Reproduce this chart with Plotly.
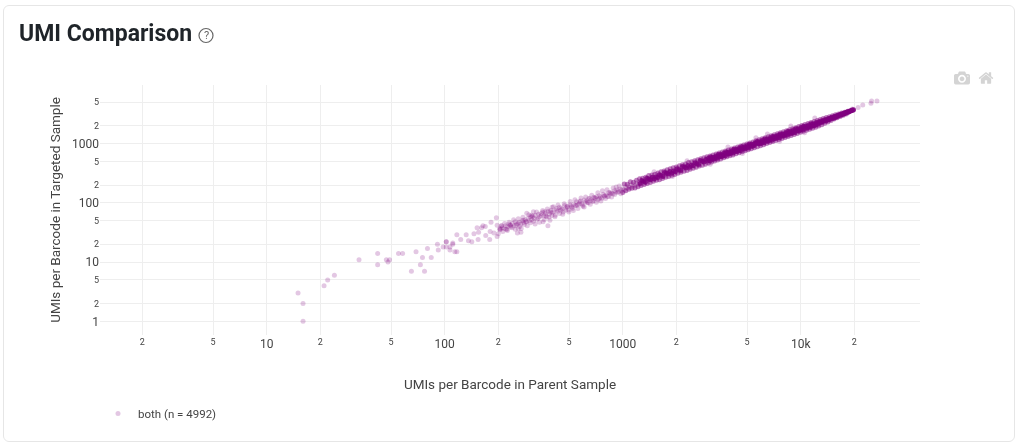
"""UMI comparison scatter, parent vs targeted sample, log-log axes."""

import plotly.graph_objects as go

PURPLE = "#800080"
FONT = "Roboto"
GRID = "#eeeeee"

# scattered points, faint end of the distribution
sparse_x = [15, 16, 16, 21, 22, 24, 33, 42, 42, 47, 49, 48, 55, 58, 65, 69, 73, 75, 77, 80, 84, 91, 92,
            98, 102, 102, 107, 107, 111, 114, 117, 117, 102, 111, 123, 132, 136, 142, 146, 152, 161, 155,
            154, 164, 169, 182, 195, 197, 180, 170, 179, 189, 197, 204, 209, 226, 233, 256, 268, 259, 249,
            276, 289, 315, 307, 357, 380, 390, 366, 401,
            205, 210, 215, 220, 224, 230, 235, 240, 245, 252, 258, 262, 268, 272, 278, 283, 288, 294, 298,
            303, 308, 313, 318, 323, 330, 336, 342, 348, 355, 361, 368, 374, 381, 388, 395, 402, 410, 418,
            425, 432, 440, 448, 455, 463, 472, 480, 488, 497, 505, 514, 522, 531, 540, 550, 558, 568, 578,
            588, 598, 608, 618, 630, 640, 652, 664, 676, 688, 700, 712, 725, 738, 750, 764, 778, 792, 806,
            820, 835, 850, 866, 882, 898, 914, 930, 948, 965, 982, 1000, 1018, 1036, 1055, 1075, 1095, 1115,
            1135, 1155, 1176, 1198, 1220, 1242, 1265, 1288, 1312, 1336, 1360, 1385, 1410, 1436, 1462, 1490,
            1517, 1545, 1574, 1603, 1632, 1662, 1693, 1724, 1756, 1788, 1821, 1855, 1889, 1924, 1960, 1996,
            2033, 2071, 2109, 2148, 2188, 2228, 2270, 2312, 2355, 2398, 2443, 2488, 2534, 2581, 2629, 2678,
            2727, 2778, 2829, 2881, 2934, 2989,
            19500, 21000, 22300, 24800, 25000, 26800]
sparse_y = [3, 2, 1, 4, 5, 6, 11, 14, 9, 11, 11, 10, 14, 14, 7, 15, 9, 12, 7, 17, 12, 20, 16,
            18, 22, 18, 16, 18, 20, 15, 15, 29, 22, 21, 24, 29, 23, 22, 30, 38, 38, 32,
            24, 41, 40, 47, 56, 42, 33, 28, 24, 31, 27, 35, 41, 40, 42, 31, 32, 37, 48,
            51, 67, 71, 62, 48, 41, 51, 71, 84,
            36, 38, 37, 41, 36, 44, 39, 45, 41, 42, 45, 47, 44, 50, 46, 52, 48, 55, 50,
            58, 52, 60, 55, 62, 53, 64, 58, 61, 70, 60, 66, 58, 72, 65, 75, 68, 71, 62,
            80, 72, 84, 75, 78, 70, 90, 82, 85, 76, 93, 88, 80, 95, 90, 104, 92, 97, 108,
            98, 88, 112, 104, 108, 100, 118, 112, 105, 124, 118, 127, 113, 132, 125, 120, 140, 130, 137,
            128, 150, 142, 147, 142, 160, 152, 165, 155, 172, 162, 172, 165, 185, 178, 190, 182, 200,
            190, 205, 197, 215, 205, 225, 215, 232, 220, 245, 232, 250, 240, 262, 250, 268,
            255, 280, 265, 290, 275, 300, 285, 312, 300, 325, 305, 335, 320, 350, 330, 365,
            350, 380, 360, 395, 375, 410, 385, 425, 400, 440, 420, 455, 430, 475, 450, 495,
            465, 510, 490, 530, 505, 550,
            3850, 4060, 4500, 4810, 5250, 5250]

# wider spread around the middle of the range, plus stray points beside the ridge
spread_x = [200, 204, 208, 212, 217, 221, 225, 230, 234, 239, 244, 249, 254, 259, 264, 269, 275, 280, 286, 291,
            297, 303, 309, 315, 322, 328, 335, 341, 348, 355, 362, 370, 377, 385, 392, 400, 408, 416, 425, 433,
            442, 451, 460, 469, 478, 488, 498, 507, 518, 528, 539, 549, 560, 572, 583, 595, 607, 619, 631, 644,
            657, 670, 683, 697, 711, 725, 739, 754, 769, 785, 800, 816, 833, 849, 866, 884, 901, 919, 938, 956,
            976, 1500, 1900, 2300, 3100, 3900, 4700, 5600, 6500, 7600, 8800, 10500, 12000]
spread_y = [30, 37, 41, 33, 45, 36, 34, 47, 42, 38, 52, 36, 44, 54, 40, 37, 57, 43, 48, 41,
            63, 46, 58, 49, 44, 70, 55, 47, 66, 74, 52, 60, 79, 57, 70, 61, 86, 58, 75, 92,
            66, 82, 64, 97, 75, 88, 70, 105, 84, 74, 113, 90, 80, 104, 121, 92, 85, 126, 100, 118,
            95, 134, 108, 122, 102, 148, 118, 108, 160, 130, 118, 166, 128, 150, 125, 178, 138, 185, 150, 192,
            142, 335, 280, 515, 450, 880, 680, 1260, 1460, 1100, 1990, 1520, 2700]

# dense ridge of the distribution
ridge_x = [1250, 1280, 1310, 1340, 1370, 1400, 1430, 1465, 1500, 1535, 1570, 1605, 1640, 1680, 1720, 1760,
           1800, 1840, 1885, 1930, 1975, 2020, 2070, 2120, 2170, 2220, 2270, 2320, 2375, 2430, 2490, 2550,
           2610, 2670, 2730, 2800, 2860, 2930,
           3000, 3030, 3060, 3090, 3120, 3150, 3180, 3210, 3240, 3280, 3310, 3340, 3380, 3410, 3450, 3480,
           3520, 3550, 3590, 3620, 3660, 3700, 3730, 3770, 3810, 3850, 3890, 3930, 3970, 4010, 4050, 4090,
           4130, 4170, 4220, 4260, 4300, 4350, 4390, 4430, 4480, 4520, 4570, 4620, 4660, 4710, 4760, 4810,
           4850, 4900, 4950, 5000, 5050, 5100, 5150, 5210, 5260, 5310, 5360, 5420, 5470, 5530, 5580, 5640,
           5700, 5750, 5810, 5870, 5930, 5990, 6050, 6110, 6170, 6230, 6290, 6360, 6420, 6490, 6550, 6620,
           6680, 6750, 6820, 6890, 6960, 7030, 7100, 7170, 7240, 7310, 7390, 7460, 7540, 7610, 7690, 7770,
           7840, 7920, 8000, 8080, 8160, 8240, 8330, 8410, 8490, 8580, 8660, 8750, 8840, 8930, 9020, 9110,
           9200, 9290, 9380, 9480, 9570, 9670, 9760, 9860, 9960, 10060, 10160, 10260, 10360, 10470, 10570,
           10680, 10790, 10890, 11000, 11110, 11220, 11340, 11450, 11560, 11680, 11800, 11910, 12030, 12150,
           12270, 12400, 12520, 12650, 12780, 12900, 13030, 13160, 13300, 13430, 13560, 13700, 13840, 13970,
           14110, 14260, 14400, 14540, 14690, 14830, 14980, 15130, 15280, 15440, 15590, 15750, 15900, 16060,
           16220, 16390, 16550, 16720, 16880, 17050, 17220, 17390, 17570, 17740, 17920, 18100, 18280, 18470,
           18650, 18840, 19030, 19220, 19410, 19600, 19800]
ridge_y = [212, 238, 231, 222, 260, 252, 246, 270, 252, 273, 267, 299, 289, 279, 327, 317,
           310, 339, 317, 344, 336, 376, 364, 352, 412, 400, 390, 427, 399, 433, 423, 474,
           459, 443, 519, 504, 492, 539,
           510, 564, 539, 513, 593, 567, 547, 591, 544, 584, 563, 621, 595, 566, 656, 626,
           605, 653, 603, 644, 622, 688, 656, 626, 724, 693, 669, 723, 667, 714, 689, 761,
           727, 692, 802, 767, 740, 800, 738, 789, 762, 841, 804, 767, 885, 848, 819, 885,
           815, 872, 842, 930, 889, 847, 979, 938, 905, 977, 900, 965, 930, 1029, 982, 1036,
           1083, 1035, 999, 1080, 996, 1066, 1029, 1136, 1086, 1034, 1195, 1145, 1104, 1194, 1100, 1178,
           1136, 1256, 1200, 1144, 1322, 1265, 1221, 1319, 1216, 1301, 1256, 1388, 1327, 1263, 1461, 1399,
           1348, 1457, 1344, 1438, 1387, 1533, 1466, 1396, 1613, 1544, 1490, 1610, 1485, 1590, 1533, 1694,
           1619, 1542, 1782, 1706, 1646, 1779, 1640, 1755, 1693, 1871, 1788, 1703, 1968, 1885, 1818,
           1965, 1813, 1938, 1870, 2066, 1975, 1882, 2176, 2081, 2009, 2171, 2001, 2141, 2090,
           2270, 2195, 2128, 2340, 2300, 2270, 2400, 2290, 2420, 2390, 2510, 2450, 2410, 2570,
           2540, 2510, 2650, 2560, 2700, 2670, 2790, 2720, 2690, 2860, 2810, 2800, 2950, 2860,
           3000, 2990, 3100, 3040, 3040, 3200, 3140, 3170, 3300, 3230, 3370, 3350, 3450, 3400,
           3470, 3570, 3540, 3600, 3680, 3650, 3750]

# upper and lower shoulders of the ridge
shoulder_x = [1000, 1020, 1040, 1061, 1082, 1104, 1126, 1149, 1172, 1195, 1219, 1243, 1268, 1294, 1319, 1346,
              1373, 1400, 1428, 1457, 1486, 1516, 1546, 1577, 1608, 1641, 1673, 1707, 1741, 1776, 1811, 1848,
              1885, 1922, 1961, 2000, 2040, 2081, 2122, 2165, 2208, 2252, 2297, 2343, 2390, 2438, 2487, 2536,
              2587, 2639, 2692, 2745, 2800, 2856, 2913, 2972, 3031, 3092, 3154, 3217, 3281, 3347, 3414, 3482,
              3551, 3622, 3695, 3769, 3844, 3921, 4000, 4080, 4161, 4245, 4330, 4416, 4505, 4595, 4687, 4780,
              4876, 4973, 5073, 5174, 5278, 5383, 5491, 5601, 5713, 5827, 5944, 6063, 6184, 6308, 6434, 6562,
              6694, 6828, 6964, 7103, 7246, 7391, 7538, 7689, 7843, 8000, 8160, 8323, 8490, 8659, 8833, 9009,
              9189, 9373, 9561, 9752, 9947, 10146, 10349, 10556, 10767, 10982, 11202, 11426, 11654, 11887,
              12125, 12368, 12615, 12867, 13125, 13387, 13655, 13928, 14207, 14491, 14781, 15076, 15378, 15685,
              15999, 16319, 16645, 16978, 17318, 17664, 18017, 18377]
shoulder_y = [150, 209, 160, 206, 170, 228, 176, 222, 178, 240, 187, 255, 196, 260, 205, 270,
              212, 290, 220, 296, 232, 305, 240, 320, 246, 335, 258, 345, 270, 362, 280, 375,
              292, 392, 300, 405, 315, 425, 330, 440, 342, 455, 352, 478, 370, 495, 385, 515,
              398, 535, 418, 555, 432, 580, 450, 600, 470, 620, 488, 645, 510, 668, 530, 695,
              552, 722, 575, 750, 598, 782, 622, 812, 645, 845, 675, 880, 700, 915, 728, 950,
              760, 990, 790, 1030, 822, 1070, 855, 1115, 890, 1160, 925, 1205, 962, 1255, 1002, 1305,
              1042, 1358, 1085, 1412, 1128, 1470, 1175, 1530, 1222, 1590, 1272, 1655, 1322, 1722, 1376, 1790,
              1432, 1862, 1490, 1938, 1550, 2015, 1612, 2098, 1680, 2180, 1748, 2268, 1820, 2360,
              1900, 2450, 1985, 2550, 2090, 2650, 2200, 2750, 2330, 2855, 2460, 2960, 2600, 3070,
              2740, 3170, 2880, 3290, 3020, 3400, 3180, 3520]

LEFT, RIGHT, TOP, BOTTOM = 100, 920, 85, 335


def px_x(px):
    return (px - LEFT) / (RIGHT - LEFT)


def px_y(py):
    return (BOTTOM - py) / (BOTTOM - TOP)


def markers(opacity):
    return dict(color=PURPLE, size=5, opacity=opacity, line=dict(width=0))


fig = go.Figure()
fig.add_trace(go.Scatter(x=sparse_x, y=sparse_y, mode="markers", name="both (n = 4992)", marker=markers(0.22)))
fig.add_trace(go.Scatter(x=spread_x, y=spread_y, mode="markers", showlegend=False, marker=markers(0.22)))
fig.add_trace(go.Scatter(x=shoulder_x, y=shoulder_y, mode="markers", showlegend=False, marker=markers(0.5)))
fig.add_trace(go.Scatter(x=ridge_x, y=ridge_y, mode="markers", showlegend=False, marker=markers(0.8)))

axis_style = dict(type="log", dtick="D2", gridcolor=GRID, gridwidth=1, showline=False, zeroline=False,
                  ticks="", automargin=False, tickfont=dict(size=12, color="#444444"))
fig.update_xaxes(range=[0.0635, 4.67], title=dict(text="UMIs per Barcode in Parent Sample", standoff=29,
                 font=dict(size=13.5, color="#444444")), **axis_style)
fig.update_yaxes(range=[-0.231, 3.99], title=dict(text="UMIs per Barcode in Targeted Sample", standoff=8,
                 font=dict(size=13.5, color="#444444")), **axis_style)

fig.add_annotation(text="<b>UMI Comparison</b>", xref="paper", yref="paper", x=px_x(17), y=px_y(33),
                   xanchor="left", yanchor="middle", showarrow=False, font=dict(size=23, color="#1f2429"))
fig.add_annotation(text="?", xref="paper", yref="paper", x=px_x(206), y=px_y(35.5), xanchor="center",
                   yanchor="middle", showarrow=False, font=dict(size=11, color="#666666"))
fig.add_shape(type="circle", xref="paper", yref="paper", x0=px_x(199), x1=px_x(213), y0=px_y(42.5),
              y1=px_y(28.5), line=dict(color="#666666", width=1.2))

fig.update_layout(
    width=1020, height=446,
    margin=dict(l=LEFT, r=1020 - RIGHT, t=TOP, b=446 - BOTTOM),
    font=dict(family=FONT, color="#444444"),
    paper_bgcolor="rgba(0,0,0,0)", plot_bgcolor="rgba(0,0,0,0)",
    showlegend=True,
    legend=dict(x=px_x(98), y=px_y(399), xanchor="left", yanchor="top", font=dict(size=11.5),
                bgcolor="rgba(0,0,0,0)"),
    modebar=dict(orientation="h", color="#d4d4d4", activecolor="#bbbbbb", bgcolor="rgba(0,0,0,0)"),
)

# card border and modebar placement live in the page css
PAGE_CSS = (
    "body{margin:0;overflow:hidden;background:#fff}"
    "body::before{content:'';position:fixed;left:3px;top:5px;width:1010px;height:435px;"
    "border:1px solid #e6e6e6;border-radius:6px}"
    ".modebar{top:67px!important;right:22px!important}"
)
fig.write_html(
    "out.html",
    config=dict(displayModeBar=True, displaylogo=False, modeBarButtons=[["toImage", "resetScale2d"]]),
    post_script="document.head.insertAdjacentHTML('beforeend', `<style>%s</style>`);" % PAGE_CSS,
)
